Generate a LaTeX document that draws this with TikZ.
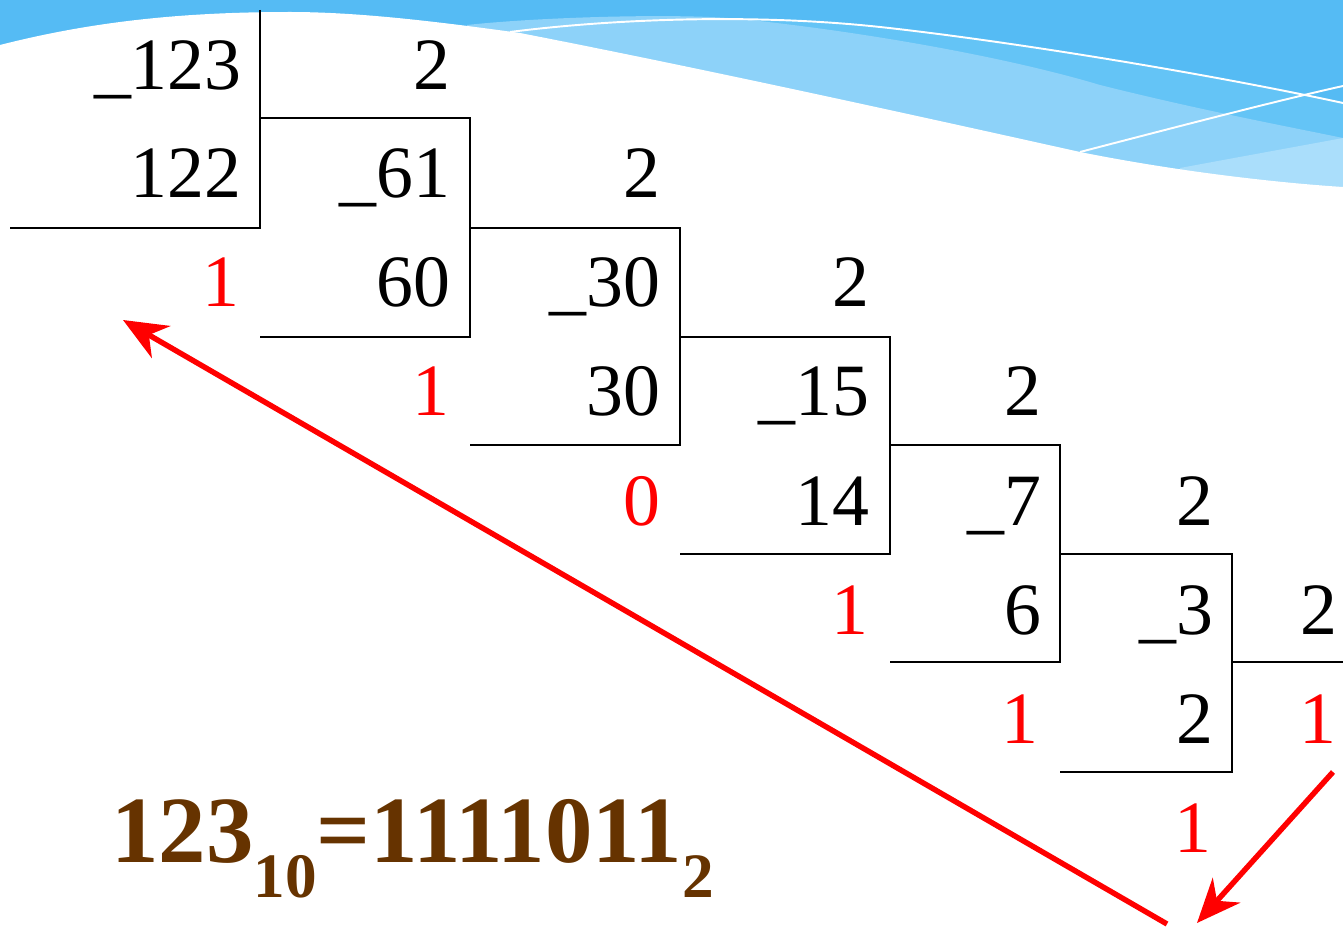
\documentclass[tikz,border=0pt]{standalone}
\usepackage{fontspec}
\setmainfont{Liberation Serif}
\usetikzlibrary{arrows.meta}
\definecolor{bandDark}{RGB}{85,187,244}
\definecolor{bandMid}{RGB}{100,196,246}
\definecolor{bandLight}{RGB}{141,210,249}
\definecolor{bandLightest}{RGB}{170,222,251}
\definecolor{remred}{RGB}{255,0,0}
\definecolor{resbrown}{RGB}{102,51,0}
\begin{document}
\begin{tikzpicture}[x=0.02cm,y=-0.02cm,
  num/.style={anchor=base east,inner sep=0pt,font=\fontsize{42}{50}\selectfont},
  rem/.style={num,text=remred},
  divline/.style={line width=1.2pt,black},
  redarrow/.style={line width=3.1pt,remred,-{Stealth[length=25pt,width=21pt,inset=8pt]}},
  wline/.style={white,line width=1.1pt}]
\useasboundingbox (0,0) rectangle (1343,929);
% ---- banner ----
\fill[bandDark] (0,0) rectangle (1343,250);
\fill[bandMid] (510,32) .. controls (620,18) and (760,14) .. (880,27)
   .. controls (1000,40) and (1200,72) .. (1343,103) -- (1343,260) -- (510,260) -- cycle;
\fill[bandLight] (467,25) .. controls (540,17) and (680,13) .. (740,19)
   .. controls (850,30) and (1000,55) .. (1100,85)
   .. controls (1200,110) and (1280,125) .. (1343,138) -- (1343,260) -- (467,260) -- cycle;
\fill[bandLightest] (1180,168) .. controls (1250,155) and (1300,146) .. (1343,138)
   -- (1343,260) -- (1180,260) -- cycle;
\fill[white] (0,45) .. controls (90,22) and (180,12) .. (290,12)
   .. controls (360,12) and (440,22) .. (520,33)
   .. controls (700,68) and (900,112) .. (1080,152)
   .. controls (1180,172) and (1280,183) .. (1343,187)
   -- (1343,260) -- (0,260) -- cycle;
\draw[wline] (510,32) .. controls (620,18) and (760,14) .. (880,27)
   .. controls (1000,40) and (1200,72) .. (1343,103);
\draw[wline] (1080,152) .. controls (1180,126) and (1280,100) .. (1343,86);
% ---- division lines ----
\draw[divline] (260,10) -- (260,228) -- (10,228);
\draw[divline] (260,118) -- (470,118) -- (470,337) -- (260,337);
\draw[divline] (470,228) -- (680,228) -- (680,445) -- (470,445);
\draw[divline] (680,337) -- (890,337) -- (890,554) -- (680,554);
\draw[divline] (890,445) -- (1060,445) -- (1060,662) -- (890,662);
\draw[divline] (1060,554) -- (1232,554) -- (1232,772) -- (1060,772);
\draw[divline] (1232,662) -- (1343,662);
% ---- numbers ----
\node[num] (n123) at (242,90) {\_123};
\node[num] (d1) at (451,90) {2};
\node[num] (n122) at (242,198) {122};
\node[num] (n61) at (451,198) {\_61};
\node[num] (d2) at (661,198) {2};
\node[rem] (r1) at (240,307) {1};
\node[num] (n60) at (451,307) {60};
\node[num] (n30) at (661,307) {\_30};
\node[num] (d3) at (870,307) {2};
\node[rem] (r2) at (450,416) {1};
\node[num] (n30b) at (661,416) {30};
\node[num] (n15) at (870,416) {\_15};
\node[num] (d4) at (1042,416) {2};
\node[rem] (r3) at (661,525) {0};
\node[num] (n14) at (870,525) {14};
\node[num] (n7) at (1042,525) {\_7};
\node[num] (d5) at (1214,525) {2};
\node[rem] (r4) at (869,634) {1};
\node[num] (n6) at (1042,634) {6};
\node[num] (n3) at (1214,634) {\_3};
\node[num] (d6) at (1338,634) {2};
\node[rem] (r5) at (1039,743) {1};
\node[num] (n2) at (1214,743) {2};
\node[rem] (r6) at (1337,743) {1};
\node[rem] (r7) at (1212,852) {1};
% ---- result ----
\node[anchor=base west,inner sep=0pt,text=resbrown,font=\fontsize{54}{60}\selectfont\bfseries] (res) at (111,862)
  {123\raisebox{-20pt}{\fontsize{36}{40}\selectfont 10}=1111011\raisebox{-20pt}{\fontsize{36}{40}\selectfont 2}};
% ---- arrows ----
\coordinate (a1s) at (1333,772);
\coordinate (a1e) at (1197,923);
\coordinate (a2s) at (1167,924);
\coordinate (a2e) at (123,320);
\draw[redarrow] (a1s) -- (a1e);
\draw[redarrow] (a2s) -- (a2e);
\end{tikzpicture}
\end{document}
